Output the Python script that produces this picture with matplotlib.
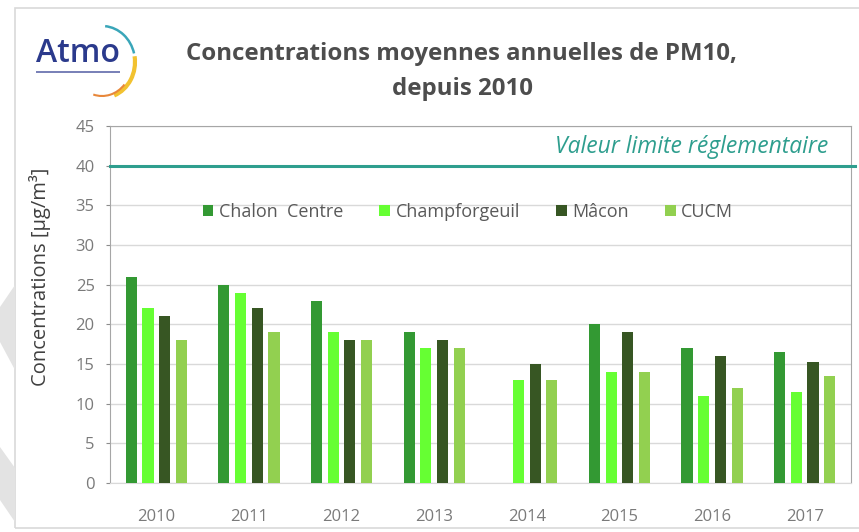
import numpy as np
import matplotlib.pyplot as plt
from matplotlib.patches import Polygon, Arc, Rectangle

# annual mean PM10 concentrations (µg/m³) per station
years = ['2010', '2011', '2012', '2013', '2014', '2015', '2016', '2017']
chalon = [26, 25, 23, 19, np.nan, 20, 17, 16.5]
champforgeuil = [22, 24, 19, 17, 13, 14, 11, 11.5]
macon = [21, 22, 18, 18, 15, 19, 16, 15.3]
cucm = [18, 19, 18, 17, 13, 14, 12, 13.5]
stations = ['Chalon  Centre', 'Champforgeuil', 'Mâcon', 'CUCM']
colors = ['#339933', '#66ff33', '#375623', '#92d050']
limit_value = 40

plt.rcParams['font.family'] = ['Open Sans', 'DejaVu Sans']

fig = plt.figure(figsize=(8.59, 5.32), dpi=100)
W, H = 859, 532

# outer frame and the grey shapes along the left edge
fig.add_artist(Rectangle((15 / W, 4 / H), 1, 1 - 12 / H, transform=fig.transFigure,
                         fill=False, ec='#d9d9d9', lw=1.2))
for pts in ([(0, 307), (15, 285), (15, 370), (0, 342)],
            [(0, 447), (15, 468), (15, 522), (0, 500)]):
    fig.add_artist(Polygon([(x / W, 1 - y / H) for x, y in pts], closed=True,
                           transform=fig.transFigure, fc='#e3e3e3', ec='none'))

ax = fig.add_axes([110 / W, 1 - 483 / H, 741 / W, 357 / H])
x = np.arange(len(years))
step = 0.18
width = 0.12
series = [chalon, champforgeuil, macon, cucm]
for i, (vals, name, c) in enumerate(zip(series, stations, colors)):
    ax.bar(x + (i - 1.5) * step, vals, width, color=c, label=name, zorder=3)

ax.axhline(limit_value, color='#2e9e8e', lw=2.2, zorder=4, clip_on=False, xmax=1.006)
ax.text(len(years) - 0.75, limit_value + 0.9, 'Valeur limite réglementaire', color='#2e9e8e',
        style='italic', fontsize=16.5, ha='right', va='bottom')

ax.set_xlim(-0.5, len(years) - 0.5)
ax.set_ylim(0, 45)
ax.set_yticks(np.arange(0, 46, 5))
ax.set_xticks(x)
ax.set_xticklabels(years)
ax.yaxis.grid(True, color='#d9d9d9', lw=1, zorder=0)
ax.tick_params(axis='both', colors='#8c8c8c', labelcolor='#7a7a7a', labelsize=12, length=3)
ax.tick_params(axis='x', length=0, pad=19)
ax.tick_params(axis='y', pad=8)
for side in ['top', 'right', 'left']:
    ax.spines[side].set_color('#a6a6a6')
ax.spines['bottom'].set_color('#d9d9d9')
ax.set_ylabel('Concentrations [µg/m³]', color='#404040', fontsize=14.5)
ax.yaxis.set_label_coords(-0.08, 0.577)

ax.legend(loc='center', bbox_to_anchor=(0.483, 0.759), ncol=4, frameon=False,
          fontsize=13, labelcolor='#595959', handlelength=0.6, handleheight=0.6,
          handletextpad=0.3, columnspacing=2.0)

fig.text(462 / W, 1 - 71.5 / H, 'Concentrations moyennes annuelles de PM10,\ndepuis 2010',
         ha='center', va='center', fontsize=17.3, fontweight='bold', color='#4d4d4d',
         linespacing=1.6)

# logo
fig.text(36 / W, 1 - 53 / H, 'Atmo', fontsize=23, fontweight='semibold', color='#2b3a8c',
         ha='left', va='center')
fig.add_artist(Rectangle((36 / W, 1 - 73 / H), 84 / W, 2 / H, transform=fig.transFigure,
                         fc='#7a82b8', ec='none'))
lax = fig.add_axes([60 / W, 1 - 105 / H, 90 / W, 85 / H])
lax.set_xlim(60, 150)
lax.set_ylim(-105, -20)
lax.axis('off')
lax.add_patch(Arc((102, -62), 66, 72, theta1=15, theta2=85, color='#3aa6b9', lw=1.8))
lax.add_patch(Arc((102, -62), 66, 72, theta1=-70, theta2=10, color='#f2c230', lw=3))
lax.add_patch(Arc((102, -62), 60, 68, theta1=-105, theta2=-45, color='#e8873a', lw=1.5))

fig.savefig('out.png', dpi=100)
